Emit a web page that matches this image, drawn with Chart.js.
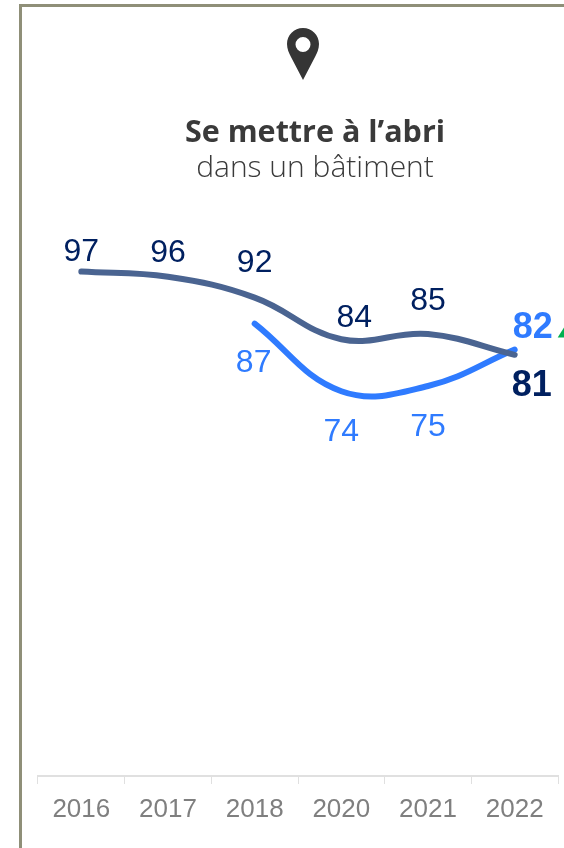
<!DOCTYPE html>
<html><head><meta charset="utf-8">
<style>
html,body{margin:0;padding:0;background:#fff;overflow:hidden}
#wrap{position:relative;width:564px;height:848px;overflow:hidden}
#frame{position:absolute;left:19px;top:4px;width:560px;height:860px;border:3px solid #8f8f78;box-sizing:border-box}
canvas{position:absolute;left:0;top:0}
.t{position:absolute;left:115px;width:400px;text-align:center;color:#3a3a3a;font-family:"Open Sans",sans-serif;white-space:nowrap}
#t1{top:110px;font-size:30.5px;font-weight:700;line-height:40px}
#t2{top:147px;font-size:30px;font-weight:300;line-height:38px}
svg{position:absolute;left:287px;top:28px}
</style></head><body>
<div id="wrap">
<div id="frame"></div>
<canvas id="c" width="564" height="848"></canvas>
<svg width="32" height="52" viewBox="0 0 32 52"><path fill-rule="evenodd" fill="#353535" d="M16 0C7 0 0 7 0 16c0 5 2 9 4 13l12 23l12-23c2-4 4-8 4-13C32 7 25 0 16 0zM16 9a7.5 7.5 0 1 1 0 15a7.5 7.5 0 0 1 0-15z"/></svg>
<div class="t" id="t1">Se mettre à l’abri</div>
<div class="t" id="t2">dans un bâtiment</div>
</div>
<script src="https://cdn.jsdelivr.net/npm/chart.js@4/dist/chart.umd.min.js"></script>
<script>
const categories=['2016','2017','2018','2020','2021','2022'];
const seriesDark=[97,96,92,84,85,81];
const seriesBlue=[null,null,87,74,75,82];
const darkOffsets=[-19,-24,-34,-21,-33,31];
const darkShift=[0,0,0,13,0,17];
const blueOffsets=[0,0,40,41,41,-22];
const blueShift=[0,0,-1,0,0,18];
const labelPlugin={id:'labels',afterDatasetsDraw(ch){
  const ctx=ch.ctx,x=ch.scales.x,y=ch.scales.y;
  ctx.save();ctx.textAlign='center';ctx.textBaseline='middle';
  const n=categories.length-1;
  const put=(arr,offs,sh,col)=>arr.forEach((v,i)=>{ if(v==null)return;
    ctx.font=(i===n?'bold 36px':'32px')+' "Liberation Sans",Arial,sans-serif';
    ctx.fillStyle=col;
    ctx.fillText(String(v),x.getPixelForValue(i)+sh[i],y.getPixelForValue(v)+offs[i]);
  });
  put(seriesDark,darkOffsets,darkShift,'#002060');
  put(seriesBlue,blueOffsets,blueShift,'#2f7bff');
  const px=x.getPixelForValue(n)+43,py=y.getPixelForValue(seriesBlue[n])-12;
  ctx.fillStyle='#00b050';ctx.beginPath();ctx.moveTo(px,py);ctx.lineTo(px+10,py);ctx.lineTo(px+10,py-16);ctx.closePath();ctx.fill();
  ctx.restore();
}};
new Chart(document.getElementById('c'),{
  type:'line',
  data:{labels:categories,datasets:[
    {data:seriesDark,borderColor:'#4a6491',borderWidth:6,tension:.4,pointRadius:0,borderCapStyle:'round',spanGaps:false},
    {data:seriesBlue,borderColor:'#2f7bff',borderWidth:6,tension:.4,pointRadius:0,borderCapStyle:'round',spanGaps:false}
  ]},
  options:{responsive:false,animation:false,
    layout:{padding:{left:38,right:6,top:256,bottom:0}},
    plugins:{legend:{display:false},tooltip:{enabled:false}},
    scales:{
      y:{display:false,min:0,max:100},
      x:{offset:true,
        grid:{offset:true,drawOnChartArea:false,drawTicks:true,tickLength:8,tickColor:'#e0e0e0',color:'#e0e0e0'},
        border:{color:'#e0e0e0',width:2},
        ticks:{color:'#7f7f7f',padding:10,maxRotation:0,autoSkip:false,font:{family:'"Liberation Sans",Arial,sans-serif',size:26}},
        afterFit(s){s.height=72;}
      }
    }
  },
  plugins:[labelPlugin]
});
</script>
</body></html>
